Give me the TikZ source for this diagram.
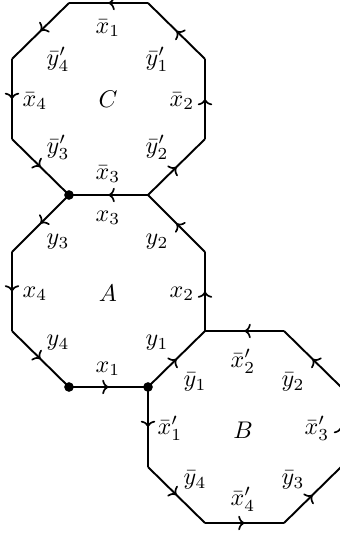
\documentclass[tikz,border=0pt]{standalone}
\usetikzlibrary{decorations.markings,arrows.meta}
\begin{document}
\begin{tikzpicture}[x=0.415pt,y=-0.415pt,
  edge/.style={line width=0.8pt,
    postaction={decorate},
    decoration={markings,mark=at position 0.5 with {\arrow[line width=0.7pt]{To[length=2.6pt,width=6pt]}}}},
  dot/.style={circle,fill=black,inner sep=0pt,minimum size=4pt},
  lab/.style={inner sep=0pt}]
\clip (0,0) rectangle (340,537);
% vertices of C
\coordinate (c1) at (69,3);
\coordinate (c2) at (148,3);
\coordinate (c3) at (205,59);
\coordinate (c4) at (205,139);
\coordinate (c5) at (148,195);
\coordinate (c6) at (69,195);
\coordinate (c7) at (12,139);
\coordinate (c8) at (12,59);
% vertices of A
\coordinate (a3) at (205,252);
\coordinate (a4) at (205,331);
\coordinate (a5) at (148,387);
\coordinate (a6) at (69,387);
\coordinate (a7) at (12,331);
\coordinate (a8) at (12,252);
% vertices of B
\coordinate (b2) at (284,331);
\coordinate (b3) at (341,387);
\coordinate (b4) at (341,467);
\coordinate (b5) at (284,523);
\coordinate (b6) at (205,523);
\coordinate (b7) at (148,467);
% edges of C
\draw[edge] (c2) -- (c1);
\draw[edge] (c1) -- (c8);
\draw[edge] (c8) -- (c7);
\draw[edge] (c7) -- (c6);
\draw[edge] (c5) -- (c6);
\draw[edge] (c5) -- (c4);
\draw[edge] (c4) -- (c3);
\draw[edge] (c3) -- (c2);
% edges of A
\draw[edge] (c6) -- (a8);
\draw[edge] (a8) -- (a7);
\draw[edge] (a7) -- (a6);
\draw[edge] (a6) -- (a5);
\draw[edge] (a5) -- (a4);
\draw[edge] (a4) -- (a3);
\draw[edge] (a3) -- (c5);
% edges of B
\draw[edge] (b2) -- (a4);
\draw[edge] (b3) -- (b2);
\draw[edge] (b4) -- (b3);
\draw[edge] (b5) -- (b4);
\draw[edge] (b6) -- (b5);
\draw[edge] (b7) -- (b6);
\draw[edge] (a5) -- (b7);
% dots
\node[dot] (d1) at (c6) {};
\node[dot] (d2) at (a6) {};
\node[dot] (d3) at (a5) {};
% labels of C
\node[lab] (lC) at (108,99) {$C$};
\node[lab] (cx1) at (108,28) {$\bar{x}_1$};
\node[lab] (cy4) at (58,59) {$\bar{y}'_4$};
\node[lab] (cy1) at (157,59) {$\bar{y}'_1$};
\node[lab] (cx4) at (35,101) {$\bar{x}_4$};
\node[lab] (cx2) at (182,101) {$\bar{x}_2$};
\node[lab] (cy3) at (58,147) {$\bar{y}'_3$};
\node[lab] (cy2) at (157,147) {$\bar{y}'_2$};
\node[lab] (cx3) at (108,174) {$\bar{x}_3$};
% labels of A
\node[lab] (lA) at (108,293) {$A$};
\node[lab] (ax3) at (108,218) {$x_3$};
\node[lab] (ay3) at (58,242) {$y_3$};
\node[lab] (ay2) at (157,242) {$y_2$};
\node[lab] (ax4) at (35,294) {$x_4$};
\node[lab] (ax2) at (182,294) {$x_2$};
\node[lab] (ay4) at (58,343) {$y_4$};
\node[lab] (ay1) at (157,343) {$y_1$};
\node[lab] (ax1) at (108,369) {$x_1$};
% labels of B
\node[lab] (lB) at (243,430) {$B$};
\node[lab] (bx2) at (243,361) {$\bar{x}'_2$};
\node[lab] (by1) at (195,382) {$\bar{y}_1$};
\node[lab] (by2) at (293,382) {$\bar{y}_2$};
\node[lab] (bx1) at (170,428) {$\bar{x}'_1$};
\node[lab] (bx3) at (317,428) {$\bar{x}'_3$};
\node[lab] (by4) at (195,480) {$\bar{y}_4$};
\node[lab] (by3) at (293,480) {$\bar{y}_3$};
\node[lab] (bx4) at (243,499) {$\bar{x}'_4$};
\end{tikzpicture}
\end{document}
